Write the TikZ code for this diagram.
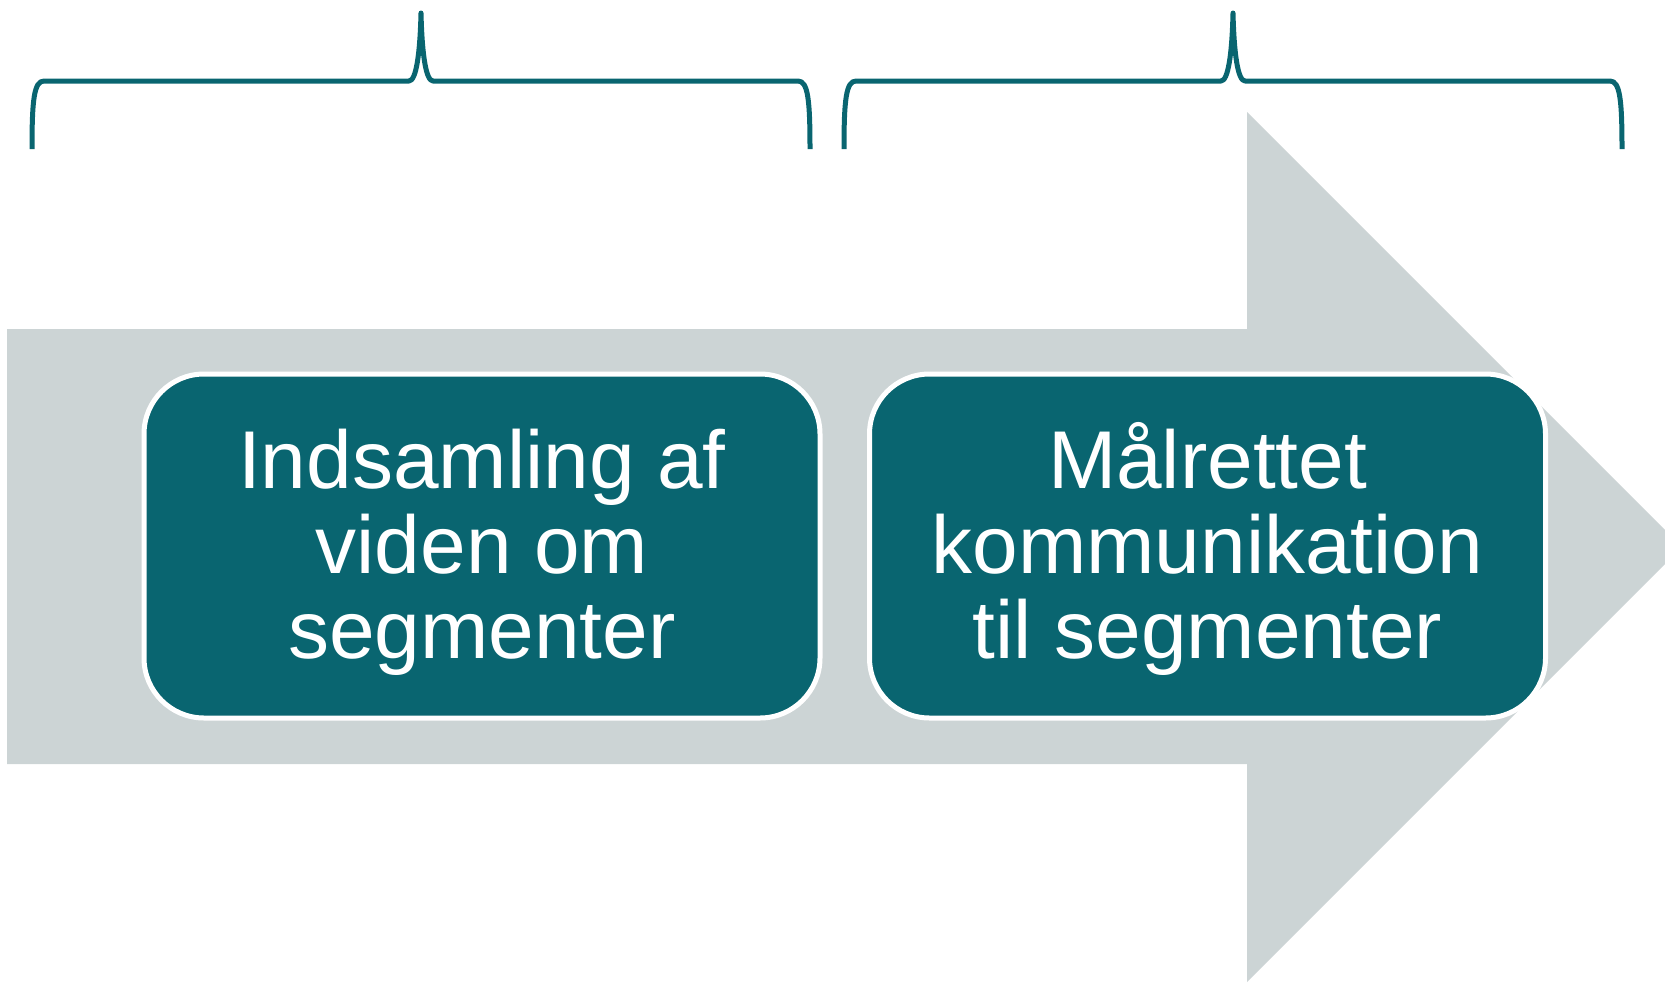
\documentclass[tikz,border=0pt]{standalone}
\usepackage{fontspec}
\setmainfont{Liberation Sans}
\definecolor{tealbox}{RGB}{9,101,112}
\definecolor{greyarrow}{RGB}{204,212,213}
\tikzset{
  stagebox/.style={draw=white, line width=5pt, fill=tealbox, rounded corners=60pt,
    minimum width=676pt, minimum height=344pt, inner sep=0pt},
  stagetext/.style={align=center, text=white, font=\fontsize{82}{85}\selectfont,
    inner sep=0pt, anchor=base},
  bracket/.style={draw=tealbox, line width=5pt, line join=round}
}
\begin{document}
\begin{tikzpicture}[x=1pt, y=-1pt]
\useasboundingbox (0,0) rectangle (1665,983);
\clip (0,0) rectangle (1665,983);
% big arrow
\fill[greyarrow] (7,329) -- (1247,329) -- (1247,112) -- (1682,547) -- (1247,982) -- (1247,764) -- (7,764) -- cycle;
% brackets
\draw[bracket] (32,149) .. controls (32,100) and (34,81) .. (44,81) -- (409,81)
  .. controls (416,81) and (420,55) .. (421,13)
  .. controls (422,55) and (426,81) .. (433,81) -- (798,81)
  .. controls (808,81) and (810,100) .. (810,149);
\draw[bracket] (844,149) .. controls (844,100) and (846,81) .. (856,81) -- (1221,81)
  .. controls (1228,81) and (1232,55) .. (1233,13)
  .. controls (1234,55) and (1238,81) .. (1245,81) -- (1610,81)
  .. controls (1620,81) and (1622,100) .. (1622,149);
% boxes
\node[stagebox] (b1) at (482,546) {};
\node[stagebox] (b2) at (1207.5,546) {};
\node[stagetext] (t1) at (482,658) {Indsamling af\\viden om\\segmenter};
\node[stagetext] (t2) at (1207.5,658) {Målrettet\\kommunikation\\til segmenter};
\end{tikzpicture}
\end{document}
